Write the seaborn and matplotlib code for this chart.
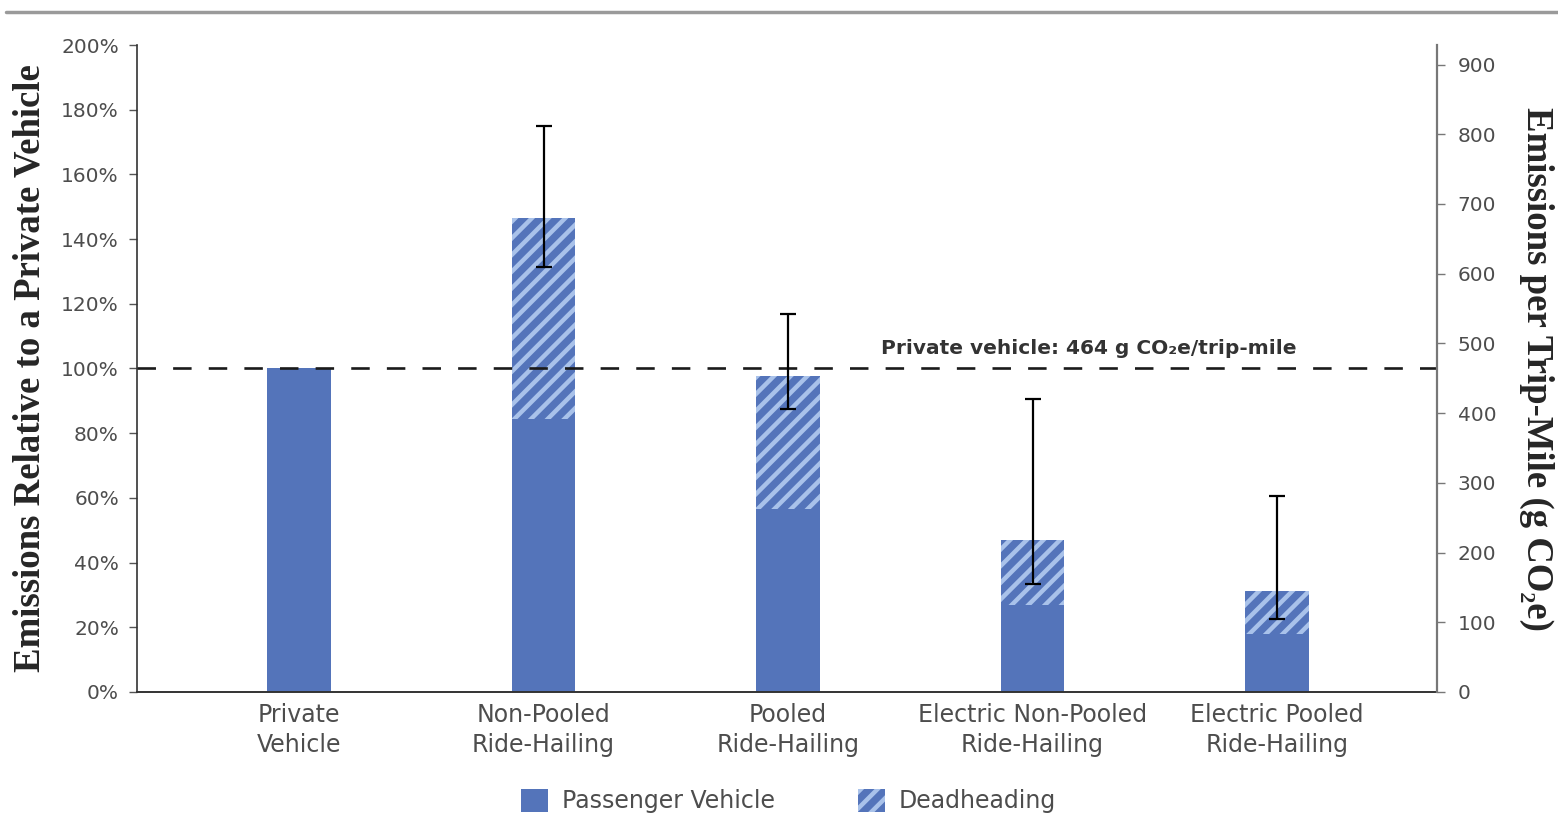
"""
Ride-hailing trip emissions relative to a private vehicle.

Stacked bars: passenger-vehicle share (solid) plus deadheading (hatched),
with uncertainty ranges, and a secondary axis in g CO2e per trip-mile.
"""

import matplotlib.pyplot as plt
import numpy as np
import pandas as pd
import seaborn as sns
from matplotlib.lines import Line2D
from matplotlib.patches import Patch
from matplotlib.ticker import PercentFormatter

categories = [
    "Private\nVehicle",
    "Non-Pooled\nRide-Hailing",
    "Pooled\nRide-Hailing",
    "Electric Non-Pooled\nRide-Hailing",
    "Electric Pooled\nRide-Hailing",
]
passenger_pct = [100, 84.5, 56.5, 27.0, 18.0]
total_pct = [100, 146.5, 97.7, 47.0, 31.2]
err_low_pct = [np.nan, 131.5, 87.5, 33.5, 22.5]
err_high_pct = [np.nan, 175.0, 117.0, 90.5, 60.5]

PRIVATE_G = 464
right_ticks = [0, 100, 200, 300, 400, 500, 600, 700, 800, 900]

BLUE = "#5474BA"
LIGHT = "#A9C2EA"
GREY_TXT = "#4d4d4d"
HATCH = "//"

sns.set_style("white")
plt.rcParams["font.family"] = ["DejaVu Sans"]
plt.rcParams["hatch.linewidth"] = 3.2

df = pd.DataFrame({
    "category": categories,
    "passenger": passenger_pct,
    "total": total_pct,
    "low": err_low_pct,
    "high": err_high_pct,
})

fig = plt.figure(figsize=(15.58, 8.14), dpi=100)
ax = fig.add_axes([0.0879, 0.1499, 0.8344, 0.7948])

# hatched full height first, solid passenger part over it
sns.barplot(data=df, x="category", y="total", ax=ax, width=0.26,
            color=BLUE, edgecolor=LIGHT, linewidth=0, hatch=HATCH,
            saturation=1, zorder=2)
sns.barplot(data=df, x="category", y="passenger", ax=ax, width=0.26,
            color=BLUE, linewidth=0, saturation=1, zorder=2)

# uncertainty ranges
err = df.dropna(subset=["low", "high"])
pos = err.index.to_numpy()
ax.errorbar(pos, err["low"], yerr=[np.zeros(len(err)), err["high"] - err["low"]],
            fmt="none", ecolor="black", elinewidth=1.6, capsize=5.5,
            capthick=1.6, zorder=5)

ax.axhline(100, color="#1a1a1a", linewidth=1.9, linestyle=(0, (7, 6.5)), zorder=4)
ax.text(3.23, 106.2, "Private vehicle: 464 g CO₂e/trip-mile", ha="center",
        va="center", fontsize=14.5, fontweight="bold", color="#333333")

ax.set_xlim(-0.663, 4.654)
ax.set_ylim(0, 200)
ax.set_yticks(range(0, 201, 20))
ax.yaxis.set_major_formatter(PercentFormatter(decimals=0))
ax.set_xlabel("")
ax.set_ylabel("Emissions Relative to a Private Vehicle",
              family=["Liberation Serif", "DejaVu Serif"], fontweight="bold",
              fontsize=26.5)
ax.yaxis.set_label_coords(-0.069, 0.5)

ax.tick_params(axis="y", direction="out", length=6, width=1, color="#555555",
               labelsize=14.5, labelcolor=GREY_TXT, pad=7, left=True)
ax.tick_params(axis="x", length=0, labelsize=17, labelcolor=GREY_TXT, pad=8)
for lbl in ax.get_xticklabels():
    lbl.set_linespacing(1.3)

for side in ["top", "right"]:
    ax.spines[side].set_visible(False)
ax.spines["left"].set_color("#333333")
ax.spines["bottom"].set_color("#333333")
ax.spines["left"].set_linewidth(1.2)
ax.spines["bottom"].set_linewidth(1.4)

ax2 = ax.twinx()
ax2.set_ylim(0, 200 * PRIVATE_G / 100)
ax2.set_yticks(right_ticks)
ax2.tick_params(axis="y", direction="out", length=6, width=1, color="#777777",
                labelsize=14.5, labelcolor=GREY_TXT, pad=9, right=True)
ax2.set_ylabel("Emissions per Trip-Mile (g CO₂e)",
               family=["Liberation Serif", "DejaVu Serif"], fontweight="bold",
               fontsize=26.5, rotation=270)
ax2.yaxis.set_label_coords(1.0905, 0.5)
for side in ["top", "left", "bottom"]:
    ax2.spines[side].set_visible(False)
ax2.spines["right"].set_color("#777777")
ax2.spines["right"].set_linewidth(1.6)

handles = [
    Patch(facecolor=BLUE, linewidth=0),
    Patch(facecolor=BLUE, edgecolor=LIGHT, hatch=HATCH, linewidth=0),
]
fig.legend(handles, ["Passenger Vehicle", "Deadheading"], loc="center",
           bbox_to_anchor=(0.506, 0.016), ncol=2, frameon=False, fontsize=17,
           handlelength=1.15, handleheight=1.15, handletextpad=0.6,
           columnspacing=3.5, labelcolor=GREY_TXT)

# grey rule across the top of the figure
fig.add_artist(Line2D([0.004, 1.0], [0.985, 0.985], transform=fig.transFigure,
                      color="#9a9a9a", linewidth=2.5))

fig.savefig("out.png", dpi=100)
